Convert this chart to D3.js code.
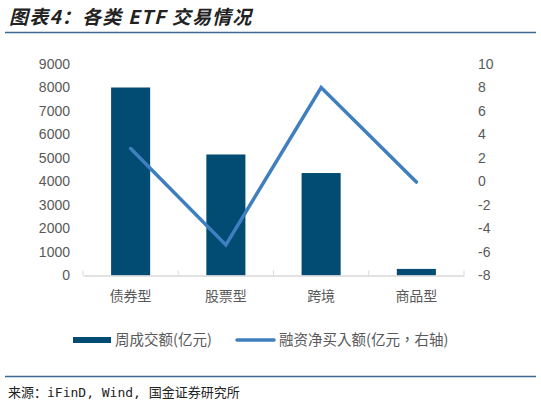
<!DOCTYPE html>
<html><head><meta charset="utf-8">
<script src="https://cdn.jsdelivr.net/npm/d3@7"></script>
<style>
html,body{margin:0;padding:0;background:#fff;}
svg{display:block;}
</style></head>
<body>
<svg id="c" width="541" height="406"></svg>
<script>
const categories = ["债券型", "股票型", "跨境", "商品型"];
const turnover = [8000, 5150, 4360, 280];
const netBuy = [2.8, -5.4, 8.0, -0.05];
const leftTicks = [0,1000,2000,3000,4000,5000,6000,7000,8000,9000];
const rightTicks = [-8,-6,-4,-2,0,2,4,6,8,10];
const title = "图表4：各类 ETF 交易情况";
const source = "来源：iFinD, Wind, 国金证券研究所";
const legendLabels = ["周成交额(亿元)", "融资净买入额(亿元，右轴)"];

const svg = d3.select("#c");
const font = "'Liberation Sans','Noto Sans CJK SC',Arial,sans-serif";
const cjk = "'Noto Sans CJK SC',sans-serif";

// title
svg.append("text").attr("x", 9).attr("y", 24)
  .attr("font-family", cjk).attr("font-size", 19).attr("font-weight", 600)
  .attr("font-style", "italic").attr("fill", "#222").attr("letter-spacing", 1.2)
  .text(title);
svg.append("line").attr("x1", 5).attr("x2", 536).attr("y1", 32.5).attr("y2", 32.5)
  .attr("stroke", "#3b6791").attr("stroke-width", 1.5);

const x = d3.scaleBand().domain(categories).range([83, 464]).paddingInner(0.59).paddingOuter(0.295);
const xb = d3.scaleBand().domain(categories).range([83, 464]);
const yL = d3.scaleLinear().domain([0, 9000]).range([275.5, 64]);
const yR = d3.scaleLinear().domain([-8, 10]).range([275.5, 64]);

// left axis
const la = svg.append("g").attr("transform", "translate(83,0)")
  .call(d3.axisLeft(yL).tickValues(leftTicks).tickFormat(d => String(d)).tickSize(0).tickPadding(13));
la.select(".domain").remove();
la.selectAll("text").attr("font-family", font).attr("font-size", 14).attr("fill", "#595959");

// right axis
const ra = svg.append("g").attr("transform", "translate(464,0)")
  .call(d3.axisRight(yR).tickValues(rightTicks).tickFormat(d => String(d)).tickSize(0).tickPadding(14));
ra.select(".domain").remove();
ra.selectAll("text").attr("font-family", font).attr("font-size", 14).attr("fill", "#595959");

// bars
svg.append("g").selectAll("rect").data(categories).join("rect")
  .attr("x", d => x(d)).attr("width", x.bandwidth())
  .attr("y", (d,i) => yL(turnover[i]))
  .attr("height", (d,i) => yL(0) - yL(turnover[i]))
  .attr("fill", "#024b72");

// x axis
const xa = svg.append("g").attr("transform", "translate(0,275.5)")
  .call(d3.axisBottom(xb).tickSize(0).tickPadding(16));
xa.select(".domain").attr("stroke", "#d9d9d9").attr("stroke-width", 1.3);
xa.selectAll("text").attr("font-family", cjk).attr("font-size", 14).attr("fill", "#595959");
const edges = categories.map(c => xb(c)).concat([xb.range()[1]]);
svg.append("g").selectAll("line").data(edges).join("line")
  .attr("x1", d => d).attr("x2", d => d).attr("y1", 275.5).attr("y2", 270.5)
  .attr("stroke", "#d9d9d9").attr("stroke-width", 1);

// line
const line = d3.line().x((d,i) => xb(categories[i]) + xb.bandwidth()/2).y(d => yR(d));
svg.append("path").datum(netBuy).attr("d", line)
  .attr("fill", "none").attr("stroke", "#3f7fbf").attr("stroke-width", 3.5)
  .attr("stroke-linejoin", "miter").attr("stroke-linecap", "round");

// legend
const lg = svg.append("g");
lg.append("rect").attr("x", 73).attr("y", 337).attr("width", 38).attr("height", 6).attr("fill", "#024b72");
lg.append("text").attr("x", 115).attr("y", 345).attr("font-family", cjk).attr("font-size", 14.5).attr("fill", "#595959").text(legendLabels[0]);
lg.append("line").attr("x1", 237).attr("x2", 274).attr("y1", 340).attr("y2", 340)
  .attr("stroke", "#3f7fbf").attr("stroke-width", 3.5).attr("stroke-linecap", "round");
lg.append("text").attr("x", 279).attr("y", 345).attr("font-family", "'Noto Sans CJK TC',sans-serif").attr("font-size", 14.5).attr("fill", "#595959").text(legendLabels[1]);

// bottom rule & source
svg.append("line").attr("x1", 5).attr("x2", 536).attr("y1", 376.5).attr("y2", 376.5)
  .attr("stroke", "#3b6791").attr("stroke-width", 1.5);
svg.append("text").attr("x", 8).attr("y", 397).attr("font-family", "'DejaVu Sans Mono','Noto Sans CJK SC',monospace")
  .attr("font-size", 13).attr("fill", "#222").text(source);
</script>
</body></html>
